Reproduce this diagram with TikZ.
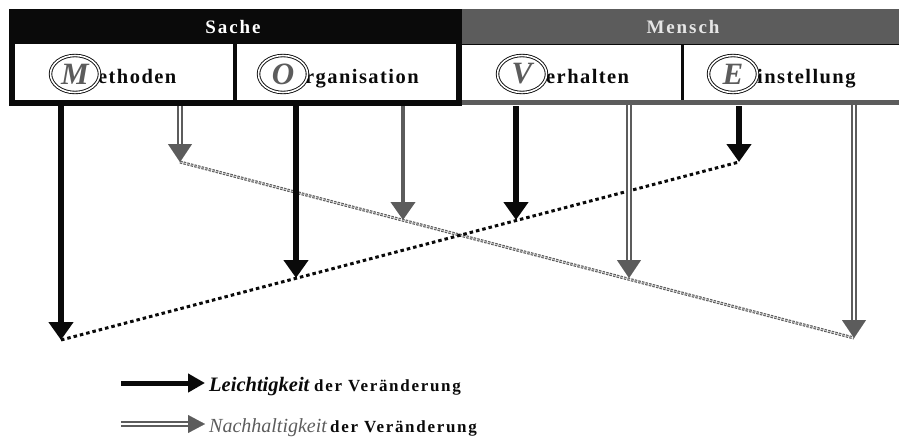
\documentclass[tikz,border=0pt]{standalone}
\usepackage{fontspec}
\setmainfont{Liberation Serif}
\newfontfamily\spacedserif[LetterSpace=7]{Liberation Serif}
\newfontfamily\widespaced[LetterSpace=10]{Liberation Serif}
\usetikzlibrary{arrows.meta,shapes.geometric}
\definecolor{ink}{HTML}{0A0A0A}
\definecolor{slate}{HTML}{5C5C5C}
\definecolor{mist}{HTML}{E6E6E6}

\tikzset{
  headtxt/.style={font=\widespaced\fontsize{19}{19}\selectfont\bfseries, text=white, inner sep=0pt},
  boxtxt/.style={font=\spacedserif\fontsize{20.5}{20.5}\selectfont\bfseries, text=ink, inner sep=0pt, anchor=base west},
  ring/.style={ellipse, draw=ink, double=white, double distance=1.6pt, line width=0.9pt,
    minimum width=49pt, minimum height=37pt, inner sep=0pt,
    font=\fontsize{31}{31}\selectfont\bfseries\itshape, text=slate},
  leicht/.style={draw=ink, line width=6.5pt, -{Triangle[width=24pt,length=18pt]}},
  nachsingle/.style={draw=slate, line width=4pt, -{Triangle[width=24pt,length=18pt]}},
  nachshaft/.style={draw=slate, double=white, double distance=2pt, line width=1.8pt},
  nachtip/.style={draw=slate, line width=0.1pt, -{Triangle[width=24pt,length=18pt]}},
  leichtline/.style={draw=ink, line width=3pt, dash pattern=on 3.5pt off 3pt},
  nachline/.style={draw=slate, double=white!70!slate, double distance=0.8pt, line width=1.1pt,
    dash pattern=on 2.5pt off 1.2pt},
  legtxt/.style={font=\fontsize{20.5}{20.5}\selectfont\bfseries\itshape, inner sep=0pt, anchor=base west},
  legsub/.style={font=\widespaced\fontsize{17}{17}\selectfont\bfseries, text=ink, inner sep=0pt, anchor=base west}
}

% double-line arrow with a solid head
\newcommand\nacharrow[2]{%
  \draw[nachshaft] (#1) -- ([yshift=16pt]#2);
  \draw[nachtip] ([yshift=17pt]#2) -- (#2);}

\begin{document}
\begin{tikzpicture}[x=1pt,y=-1pt]
\useasboundingbox (0,0) rectangle (899,437);

% header bars
\fill[ink] (9,9) rectangle (462,44);
\fill[slate] (462,9) rectangle (899,44);
\node[headtxt] (sache) at (233,27) {Sache};
\node[headtxt, text=mist] (mensch) at (683,27) {Mensch};

% frame of the four fields
\draw[ink, line width=1.5pt] (462,44.5) -- (899,44.5);
\fill[ink] (9,9) rectangle (14.5,106);
\fill[ink] (9,100) rectangle (462,106);
\fill[ink] (232.5,44) rectangle (237,100);
\fill[ink] (456,9) rectangle (462,106);
\fill[slate] (462,100) rectangle (899,105);
\fill[ink] (680.5,44) rectangle (684,100);

% field labels
\node[boxtxt] (meth) at (98,83) {ethoden};
\node[ring] (mring) at (75,74) {M};
\node[boxtxt] (orga) at (305,83) {rganisation};
\node[ring] (oring) at (283,74) {O};
\node[boxtxt] (verh) at (546,83) {erhalten};
\node[ring] (vring) at (522,74) {V};
\node[boxtxt] (eins) at (757,83) {instellung};
\node[ring] (ering) at (733,74) {E};

% arrow end points
\coordinate (mlA) at (61,106);  \coordinate (mlB) at (61,340);
\coordinate (olA) at (296,106); \coordinate (olB) at (296,278);
\coordinate (vlA) at (516,106); \coordinate (vlB) at (516,220);
\coordinate (elA) at (739,106); \coordinate (elB) at (739,162);
\coordinate (mnA) at (180,106); \coordinate (mnB) at (180,162);
\coordinate (onA) at (403,106); \coordinate (onB) at (403,220);
\coordinate (vnA) at (629,105); \coordinate (vnB) at (629,278);
\coordinate (enA) at (854,105); \coordinate (enB) at (854,338);

% dotted trend lines
\draw[nachline] (mnB) -- (enB);
\draw[leichtline] (mlB) -- (elB);

% arrows
\draw[leicht] (mlA) -- (mlB);
\draw[leicht] (olA) -- (olB);
\draw[leicht] (vlA) -- (vlB);
\draw[leicht] (elA) -- (elB);
\nacharrow{mnA}{mnB}
\draw[nachsingle] (onA) -- (onB);
\nacharrow{vnA}{vnB}
\nacharrow{enA}{enB}

% legend
\coordinate (lgA) at (121,383); \coordinate (lgB) at (205,383);
\coordinate (ngA) at (121,424); \coordinate (ngB) at (205,424);
\draw[draw=ink, line width=5pt, -{Triangle[width=18pt,length=17pt]}] (lgA) -- (lgB);
\draw[nachshaft] (ngA) -- ([xshift=-15pt]ngB);
\draw[draw=slate, line width=0.1pt, -{Triangle[width=18pt,length=17pt]}] ([xshift=-16pt]ngB) -- (ngB);
\node[legtxt, text=ink] (leg1) at (209,391) {Leichtigkeit};
\node[legsub] (leg1b) at (314,391) {der Veränderung};
\node[legtxt, text=slate, font=\fontsize{20}{20}\selectfont\itshape] (leg2) at (209,432) {Nachhaltigkeit};
\node[legsub] (leg2b) at (330,432) {der Veränderung};
\end{tikzpicture}
\end{document}
